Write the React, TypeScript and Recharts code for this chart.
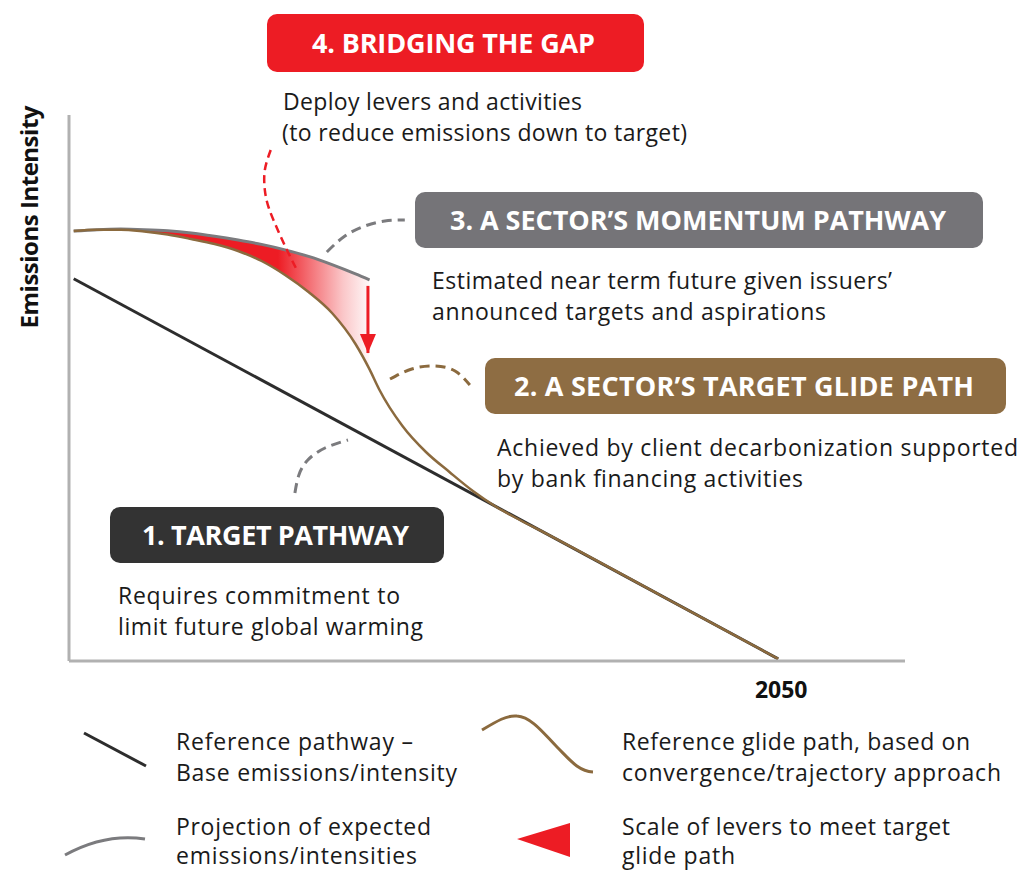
import React from 'react';
import { ComposedChart, Line, Area, XAxis, YAxis } from 'recharts';

// ---- data (x = year, y = emissions intensity index) ----
const referenceYears = [2020, 2050];
const referenceValues = [70.0, 0.4];

const glideYears = [2020, 2021, 2022, 2023, 2024, 2025, 2026, 2027, 2028, 2029, 2030, 2031, 2032, 2032.6, 2033, 2034, 2035, 2036, 2037, 2038, 2039, 2040, 2045, 2050];
const glideValues = [78.75, 79.0, 79.0, 78.66, 78.11, 77.29, 76.37, 75.09, 73.26, 70.7, 67.58, 63.74, 58.06, 53.4, 49.82, 43.04, 38.28, 34.62, 31.14, 28.21, 25.82, 23.6, 12.0, 0.4];

const projectionYears = [2020, 2021, 2022, 2023, 2024, 2025, 2026, 2027, 2028, 2029, 2030, 2031, 2032, 2032.6];
const projectionValues = [78.75, 79.0, 79.1, 79.0, 78.8, 78.4, 77.8, 77.1, 76.3, 75.3, 74.1, 72.6, 70.9, 69.8];

// lever arrow (from projection end down toward glide path)
const leverYears = [2032.53, 2032.53];
const leverValues = [68.7, 56.4];

// callout connectors
const bridgeYears = [2028.39, 2028.14, 2028.14, 2028.31, 2028.69, 2029.08, 2029.46];
const bridgeValues = [93.59, 89.93, 86.26, 82.97, 78.94, 75.27, 71.98];
const momentumYears = [2030.78, 2031.55, 2032.4, 2033.25, 2034.1];
const momentumValues = [74.91, 77.84, 79.67, 80.59, 80.77];
const glideLinkYears = [2033.47, 2034.4, 2035.38, 2036.24, 2036.87];
const glideLinkValues = [51.65, 53.48, 54.03, 53.11, 50.55];
const targetLinkYears = [2029.42, 2029.59, 2029.97, 2030.7, 2031.68];
const targetLinkValues = [30.77, 34.07, 36.81, 39.01, 40.48];

const xTicks = [2050];

const toRows = (xs: number[], ys: number[]) => xs.map((x, i) => ({ year: x, v: ys[i] }));

const referenceData = toRows(referenceYears, referenceValues);
const glideData = toRows(glideYears, glideValues);
const projectionData = toRows(projectionYears, projectionValues);
const gapData = projectionYears.map((yr, i) => ({
  year: yr,
  range: [glideValues[glideYears.indexOf(yr)], projectionValues[i]],
}));
const leverData = toRows(leverYears, leverValues);
const bridgeData = toRows(bridgeYears, bridgeValues);
const momentumData = toRows(momentumYears, momentumValues);
const glideLinkData = toRows(glideLinkYears, glideLinkValues);
const targetLinkData = toRows(targetLinkYears, targetLinkValues);

const FONT = "'Open Sans', 'Noto Sans', sans-serif";
const RED = '#ED1C24';
const BROWN = '#8B6A3E';
const GREY = '#7B7B7E';
const BLACK = '#2D2D2D';
const TEXT = '#1a1a1a';

const YearTick = (props: any) => {
  const { x, y, payload } = props;
  return (
    <text x={x + 3} y={y + 37} textAnchor="middle" fontFamily={FONT} fontWeight={700} fontSize={23} fill="#111">
      {payload.value}
    </text>
  );
};

const ArrowHead = (props: any) => {
  const { cx, cy, index } = props;
  if (index !== 1 || cx == null || cy == null) return <g key={`ah-${index}`} />;
  return <polygon key={`ah-${index}`} points={`${cx - 8},${cy - 19} ${cx + 8},${cy - 19} ${cx},${cy}`} fill={RED} />;
};

type Txt = { t: string; x: number; y: number; w: number; s: number; b?: boolean; c?: string };

const boxes = [
  { x: 267, y: 14, w: 377, h: 58, c: RED },
  { x: 415, y: 192, w: 568, h: 56, c: '#757478' },
  { x: 485, y: 358, w: 521, h: 56, c: '#8E6D43' },
  { x: 110, y: 507, w: 334, h: 56, c: '#333333' },
];

const texts: Txt[] = [
  { t: '4. BRIDGING THE GAP', x: 312, y: 53, w: 283, s: 27, b: true, c: '#fff' },
  { t: '3. A SECTOR\u2019S MOMENTUM PATHWAY', x: 450, y: 230, w: 496, s: 27, b: true, c: '#fff' },
  { t: '2. A SECTOR\u2019S TARGET GLIDE PATH', x: 514, y: 396, w: 460, s: 27, b: true, c: '#fff' },
  { t: '1. TARGET PATHWAY', x: 142, y: 545, w: 267, s: 27, b: true, c: '#fff' },
  { t: 'Deploy levers and activities', x: 283, y: 110, w: 299, s: 23 },
  { t: '(to reduce emissions down to target)', x: 282, y: 141, w: 405, s: 23 },
  { t: 'Estimated near term future given issuers\u2019', x: 432, y: 289, w: 460, s: 23 },
  { t: 'announced targets and aspirations', x: 432, y: 320, w: 394, s: 23 },
  { t: 'Achieved by client decarbonization supported', x: 497, y: 456, w: 521, s: 23 },
  { t: 'by bank financing activities', x: 497, y: 487, w: 306, s: 23 },
  { t: 'Requires commitment to', x: 118, y: 604, w: 282, s: 23 },
  { t: 'limit future global warming', x: 118, y: 635, w: 305, s: 23 },
  { t: 'Reference pathway \u2013', x: 176, y: 750, w: 237, s: 23 },
  { t: 'Base emissions/intensity', x: 176, y: 781, w: 281, s: 23 },
  { t: 'Reference glide path, based on', x: 622, y: 750, w: 348, s: 23 },
  { t: 'convergence/trajectory approach', x: 622, y: 781, w: 379, s: 23 },
  { t: 'Projection of expected', x: 176, y: 835, w: 255, s: 23 },
  { t: 'emissions/intensities', x: 176, y: 864, w: 241, s: 23 },
  { t: 'Scale of levers to meet target', x: 622, y: 835, w: 328, s: 23 },
  { t: 'glide path', x: 622, y: 864, w: 113, s: 23 },
];

export default function App() {
  return (
    <div style={{ position: 'absolute', left: 0, top: 0, width: 1024, height: 870, overflow: 'hidden', background: '#fff' }}>
      <ComposedChart width={1024} height={870} margin={{ top: 115, right: 119, bottom: 208, left: 68 }}>
        <defs>
          <linearGradient id="gapFill" x1="0" y1="0" x2="1" y2="0">
            <stop offset="0" stopColor={RED} stopOpacity={1} />
            <stop offset="0.69" stopColor={RED} stopOpacity={1} />
            <stop offset="0.8" stopColor={RED} stopOpacity={0.62} />
            <stop offset="0.91" stopColor={RED} stopOpacity={0.25} />
            <stop offset="1" stopColor={RED} stopOpacity={0.03} />
          </linearGradient>
        </defs>
        <XAxis
          type="number"
          dataKey="year"
          domain={[2019.8, 2055.4]}
          allowDataOverflow
          ticks={xTicks}
          tick={<YearTick />}
          tickLine={false}
          tickSize={0}
          tickMargin={0}
          height={1}
          axisLine={{ stroke: '#b1b1b1', strokeWidth: 3 }}
        />
        <YAxis
          type="number"
          domain={[0, 100]}
          allowDataOverflow
          tick={false}
          tickLine={false}
          width={1}
          axisLine={{ stroke: '#b1b1b1', strokeWidth: 3 }}
        />
        <Area data={gapData} dataKey="range" type="monotone" stroke="none" fill="url(#gapFill)" fillOpacity={1} isAnimationActive={false} activeDot={false} />
        <Line data={referenceData} dataKey="v" type="linear" stroke={BLACK} strokeWidth={3} dot={false} activeDot={false} isAnimationActive={false} />
        <Line data={projectionData} dataKey="v" type="monotone" stroke={GREY} strokeWidth={3} dot={false} activeDot={false} isAnimationActive={false} />
        <Line data={glideData} dataKey="v" type="monotone" stroke={BROWN} strokeWidth={2.5} dot={false} activeDot={false} isAnimationActive={false} />
        <Line data={bridgeData} dataKey="v" type="natural" stroke={RED} strokeWidth={2.5} strokeDasharray="8 5" dot={false} activeDot={false} isAnimationActive={false} />
        <Line data={momentumData} dataKey="v" type="natural" stroke={GREY} strokeWidth={3} strokeDasharray="10 6" dot={false} activeDot={false} isAnimationActive={false} />
        <Line data={glideLinkData} dataKey="v" type="natural" stroke={BROWN} strokeWidth={3} strokeDasharray="10 6" dot={false} activeDot={false} isAnimationActive={false} />
        <Line data={targetLinkData} dataKey="v" type="natural" stroke={GREY} strokeWidth={3} strokeDasharray="10 6" dot={false} activeDot={false} isAnimationActive={false} />
        <Line data={leverData} dataKey="v" type="linear" stroke={RED} strokeWidth={3} dot={<ArrowHead />} activeDot={false} isAnimationActive={false} />
      </ComposedChart>
      <svg width={1024} height={870} style={{ position: 'absolute', left: 0, top: 0, pointerEvents: 'none' }}>
        {boxes.map((b, i) => (
          <rect key={i} x={b.x} y={b.y} width={b.w} height={b.h} rx={10} ry={10} fill={b.c} />
        ))}
        {texts.map((t, i) => (
          <text
            key={i}
            x={t.x}
            y={t.y}
            fontFamily={FONT}
            fontSize={t.s}
            fontWeight={t.b ? 700 : 400}
            fill={t.c || TEXT}
            textLength={t.w}
            lengthAdjust="spacing"
          >
            {t.t}
          </text>
        ))}
        <text
          transform="translate(38,217) rotate(-90)"
          textAnchor="middle"
          fontFamily={FONT}
          fontSize={24}
          fontWeight={700}
          fill="#111"
          textLength={223}
          lengthAdjust="spacing"
        >
          Emissions Intensity
        </text>
        {/* legend symbols */}
        <line x1={84} y1={733} x2={146} y2={766} stroke={BLACK} strokeWidth={3} />
        <path d="M482,730 C497,721 507,715 517,716 C532,717 545,735 557,747 C570,760 578,771 593,772" fill="none" stroke={BROWN} strokeWidth={3} />
        <path d="M65,855 Q105,833 145,839" fill="none" stroke={GREY} strokeWidth={3} />
        <polygon points="517,839 570,823 570,857" fill={RED} />
      </svg>
    </div>
  );
}
